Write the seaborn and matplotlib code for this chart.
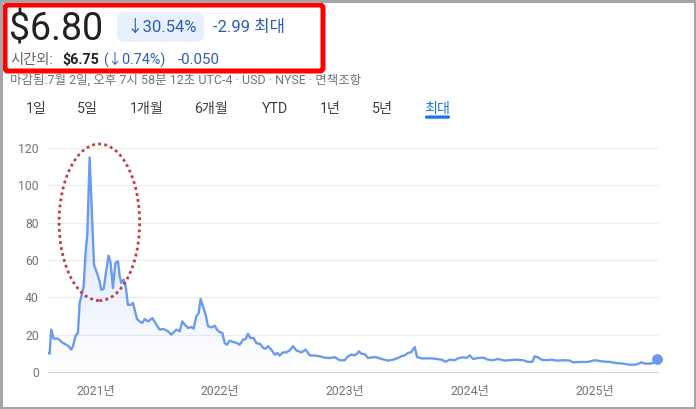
import numpy as np
import pandas as pd
import matplotlib
matplotlib.use("Agg")
import matplotlib.pyplot as plt
from matplotlib.patches import FancyBboxPatch, Ellipse, Rectangle
import seaborn as sns

# ---------------- data ----------------
years = [
    2020.618, 2020.631, 2020.644, 2020.663, 2020.698, 2020.738, 2020.765, 2020.778,
    2020.805, 2020.818, 2020.840, 2020.858, 2020.872, 2020.885, 2020.904, 2020.920,
    2020.933, 2020.952, 2020.968, 2020.987, 2021.011, 2021.032, 2021.045, 2021.064,
    2021.086, 2021.104, 2021.120, 2021.139, 2021.158, 2021.179, 2021.193, 2021.206,
    2021.225, 2021.241, 2021.259, 2021.281, 2021.299, 2021.313, 2021.332, 2021.353,
    2021.374, 2021.393, 2021.420, 2021.455, 2021.487, 2021.513, 2021.545, 2021.580,
    2021.607, 2021.634, 2021.647, 2021.674, 2021.695, 2021.714, 2021.741, 2021.767,
    2021.786, 2021.807, 2021.826, 2021.842, 2021.861, 2021.882, 2021.901, 2021.928,
    2021.955, 2021.973, 2021.995, 2022.016, 2022.035, 2022.053, 2022.075, 2022.102,
    2022.134, 2022.155, 2022.182, 2022.203, 2022.222, 2022.241, 2022.267, 2022.289,
    2022.321, 2022.342, 2022.364, 2022.382, 2022.409, 2022.436, 2022.457, 2022.476,
    2022.503, 2022.529, 2022.556, 2022.583, 2022.610, 2022.650, 2022.684, 2022.717,
    2022.757, 2022.797, 2022.837, 2022.877, 2022.917, 2022.957, 2022.997, 2023.024,
    2023.051, 2023.078, 2023.096, 2023.112, 2023.131, 2023.158, 2023.184, 2023.225,
    2023.251, 2023.291, 2023.345, 2023.385, 2023.425, 2023.452, 2023.479, 2023.505,
    2023.532, 2023.559, 2023.578, 2023.612, 2023.652, 2023.693, 2023.733, 2023.773,
    2023.807, 2023.840, 2023.880, 2023.906, 2023.947, 2023.973, 2024.000, 2024.027,
    2024.067, 2024.107, 2024.147, 2024.187, 2024.227, 2024.281, 2024.321, 2024.374,
    2024.428, 2024.468, 2024.503, 2024.521, 2024.548, 2024.575, 2024.615, 2024.655,
    2024.695, 2024.749, 2024.802, 2024.829, 2024.882, 2024.949, 2025.003, 2025.056,
    2025.123, 2025.176, 2025.230, 2025.283, 2025.324, 2025.350, 2025.377, 2025.404,
    2025.444, 2025.471, 2025.505,
]
prices = [
    10.2, 9.8, 22.7, 17.9, 17.9, 15.5, 14.6, 14.1,
    12.0, 13.8, 19.6, 20.9, 37.0, 40.5, 46.0, 64.6,
    73.6, 115.0, 88.8, 57.5, 53.0, 48.6, 44.0, 44.5,
    54.8, 62.3, 58.4, 45.0, 58.4, 59.3, 51.3, 47.7,
    49.5, 46.0, 36.0, 36.0, 37.0, 33.4, 28.4, 27.1,
    26.3, 28.4, 27.1, 28.9, 25.4, 22.7, 23.0, 21.8,
    20.0, 21.8, 22.7, 21.8, 27.1, 25.4, 23.6, 24.1,
    23.2, 29.8, 31.6, 39.1, 35.2, 30.7, 24.5, 23.9,
    24.8, 22.7, 21.4, 20.9, 15.5, 14.6, 16.8, 16.1,
    15.5, 14.6, 17.3, 17.7, 20.5, 18.2, 18.2, 15.5,
    15.0, 12.9, 12.5, 13.8, 12.0, 9.3, 10.2, 8.8,
    10.5, 10.5, 11.6, 13.8, 11.6, 10.5, 12.0, 8.9,
    8.8, 8.4, 7.7, 7.5, 7.9, 6.3, 6.3, 8.4,
    9.3, 8.9, 9.8, 11.1, 9.8, 9.6, 7.5, 7.9,
    7.9, 7.0, 6.1, 6.6, 7.5, 8.4, 8.9, 10.2,
    10.7, 13.4, 8.0, 7.3, 7.3, 7.3, 7.0, 6.6,
    5.5, 6.6, 6.3, 7.3, 7.9, 7.5, 8.9, 7.0,
    7.5, 7.7, 6.6, 6.3, 7.0, 6.1, 6.3, 6.6,
    6.3, 5.4, 5.5, 8.4, 7.9, 6.6, 6.3, 6.6,
    6.1, 6.3, 6.1, 5.2, 5.4, 5.4, 6.3, 5.7,
    5.4, 4.8, 4.5, 3.9, 3.9, 4.3, 5.2, 4.5,
    4.5, 4.8, 6.8,
]
y_ticks = [0, 20, 40, 60, 80, 100, 120]
x_ticks = [2021, 2022, 2023, 2024, 2025]
x_tick_labels = ["2021년", "2022년", "2023년", "2024년", "2025년"]
tabs = ["1일", "5일", "1개월", "6개월", "YTD", "1년", "5년", "최대"]

df = pd.DataFrame({"year": years, "price": prices})

# ---------------- style ----------------
sns.set_style("white")
FONTS = ["Roboto", "Noto Sans CJK KR", "DejaVu Sans"]
plt.rcParams["font.family"] = FONTS

W, H = 696, 409
fig = plt.figure(figsize=(W / 100, H / 100), dpi=100)
fig.patch.set_facecolor("white")

LINE = "#6a9bef"
GRAY_TXT = "#70757a"
BLUE = "#2b5fb3"

# main axes in pixel placement
x0p, x1p, y0p, y1p = 48, 658, 372, 148
ax = fig.add_axes([x0p / W, 1 - y0p / H, (x1p - x0p) / W, (y0p - y1p) / H])
ax.set_facecolor("none")

sns.lineplot(data=df, x="year", y="price", ax=ax, color=LINE, linewidth=1.7, zorder=4)

# gradient fill under the line
xlim = (2020.618, 2025.51)
ylim = (0, 120)
poly = ax.fill_between(df["year"], df["price"], 0, color="none", lw=0)
grad = np.linspace(0.32, 0.0, 256).reshape(-1, 1)
rgba = np.zeros((256, 1, 4))
rgba[..., 0] = 0.40
rgba[..., 1] = 0.58
rgba[..., 2] = 0.95
rgba[..., 3] = grad
im = ax.imshow(rgba, extent=(xlim[0], xlim[1], 0, 110), origin="upper",
               aspect="auto", zorder=2, interpolation="bilinear")
im.set_clip_path(poly.get_paths()[0], transform=ax.transData)

# end dot
ax.plot([df["year"].iloc[-1]], [df["price"].iloc[-1]], "o", color=LINE,
        markersize=6.8, zorder=5, clip_on=False)

ax.set_xlim(*xlim)
ax.set_ylim(*ylim)
ax.set_yticks(y_ticks)
ax.set_xticks(x_ticks)
ax.set_xticklabels(x_tick_labels)
ax.set_xlabel("")
ax.set_ylabel("")
ax.grid(False)
for v in y_ticks[1:]:
    ax.axhline(v, color="#ececec", lw=0.8, zorder=1)
for s in ["top", "right", "left"]:
    ax.spines[s].set_visible(False)
ax.spines["bottom"].set_color("#d6d6d6")
ax.spines["bottom"].set_linewidth(0.9)
ax.tick_params(axis="y", length=0, pad=6.5, labelsize=8.8, labelcolor=GRAY_TXT)
ax.tick_params(axis="x", length=3.5, width=1.3, color="#5f6368", direction="out",
               pad=5.5, labelsize=8.8, labelcolor=GRAY_TXT)

# red dotted ellipse annotation
ell = Ellipse((2021.03, 80.2), 0.646, 83.9, fill=False, edgecolor="#c43a3f",
              linewidth=2.0, linestyle=(0, (1, 1.2)), zorder=6, clip_on=False)
ax.add_patch(ell)

# ---------------- header overlay (pixel coords) ----------------
ov = fig.add_axes([0, 0, 1, 1], zorder=10)
ov.set_xlim(0, W)
ov.set_ylim(H, 0)
ov.axis("off")
ov.patch.set_alpha(0)

def t(x, y, s, **kw):
    kw.setdefault("va", "baseline")
    kw.setdefault("ha", "left")
    ov.text(x, y, s, **kw)

t(9, 40, "$6.80", fontsize=27, color="#202124")
ov.add_patch(FancyBboxPatch((117, 12), 87, 30, boxstyle="round,pad=0,rounding_size=8",
                            facecolor="#e8f0fe", edgecolor="none"))
t(127, 32, "↓30.54%", fontsize=12, color=BLUE)
t(213, 32, "-2.99 최대", fontsize=12, color=BLUE)

t(10, 64, "시간외:", fontsize=10.3, color="#5f6368")
t(62, 64, "$6.75", fontsize=10.3, color="#202124", fontweight="bold")
t(103, 64, "(↓0.74%)", fontsize=10.3, color=BLUE)
t(178, 64, "-0.050", fontsize=10.8, color=BLUE)

ov.add_patch(FancyBboxPatch((5, 5), 318, 66, boxstyle="round,pad=0,rounding_size=3",
                            facecolor="none", edgecolor="#ff0000", linewidth=3.6))

t(10, 84, "마감됨:7월 2일, 오후 7시 58분 12초 UTC-4 · USD · NYSE · 면책조항",
  fontsize=9.0, color=GRAY_TXT)

tab_centers = [36, 87, 147, 211.5, 275, 330, 382, 437.5]
for lab, cx in zip(tabs, tab_centers):
    col = "#1a73e8" if lab == "최대" else "#3c4043"
    t(cx, 113, lab, fontsize=10.2, color=col, ha="center")
ov.add_patch(FancyBboxPatch((425, 115.5), 25, 3.2, boxstyle="round,pad=0,rounding_size=1.5",
                            facecolor="#1a73e8", edgecolor="none"))

# outer gray frame
ov.add_patch(Rectangle((1.2, 1.2), W - 2.4, H - 2.4, facecolor="none",
                       edgecolor="#a5a5a5", linewidth=2.2))

fig.savefig("out.png", dpi=100, facecolor="white")
